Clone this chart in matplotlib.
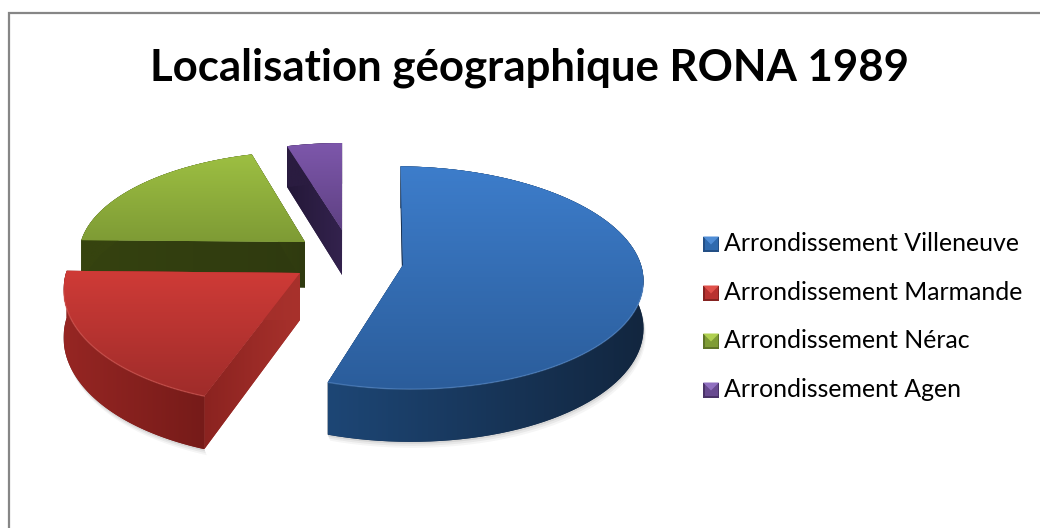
import numpy as np
import matplotlib
matplotlib.use("Agg")
import matplotlib.pyplot as plt
from matplotlib.patches import Polygon, Rectangle
from matplotlib.colors import LinearSegmentedColormap

title = "Localisation géographique RONA 1989"
categories = ["Arrondissement Villeneuve", "Arrondissement Marmande",
              "Arrondissement Nérac", "Arrondissement Agen"]
values = [55.0, 20.3, 20.2, 4.5]

# style: per-slice placement on screen (exploded apex), perspective fit and colours
apex = [(403, 265), (300, 273), (305, 242), (342, 230)]
scale_x = [0.995, 0.97, 0.96, 0.94]
scale_y = [1.0, 1.04, 0.96, 0.94]
start_nudge = [1.0, 2.0, 0.0, 0.0]
top_cols = [("#3d7dcb", "#2b5d9b"), ("#cf3b37", "#9f2c2a"),
            ("#9dbf42", "#7e9b35"), ("#7d57ab", "#5f4183")]
arc_cols = [("#1d4675", "#12263f"), ("#962623", "#761b19"),
            ("#36430f", "#36430f"), ("#2a1c40", "#2a1c40")]
rad_cols = [("#1a3557", "#1a3557"), ("#8b2320", "#a8312c"),
            ("#35420f", "#2f3a10"), ("#241838", "#33224d")]
rims = ["#6fa0dc", "#e8706a", "#c0dc70", "#a080c8"]
draw_order = [3, 2, 0, 1]

CX, CY, RX, RY, K, D = 343.0, 252.0, 236.0, 107.0, 0.113, 46.0
W, H = 1040, 528

plt.rcParams["font.family"] = ["Lato", "DejaVu Sans"]

fig = plt.figure(figsize=(W / 100, H / 100), dpi=100, facecolor="white")
ax = fig.add_axes([0, 0, 1, 1])
ax.set_xlim(0, W)
ax.set_ylim(H, 0)
ax.axis("off")


def project(U, V, down=0.0):
    w = 1 + K * V
    return np.column_stack([CX + RX * U / w, CY - RY * V / w + down / w])


def unproject(px, py):
    a = (px - CX) / RX
    b = (CY - py) / RY
    w = 1 / (1 - K * b)
    return a * w, b * w


def grad_poly(pts, c0, c1, horizontal, z):
    """Polygon filled with a linear gradient, clipped to its outline."""
    poly = Polygon(pts, closed=True, fc=c1, ec="none", zorder=z)
    ax.add_patch(poly)
    x0, x1 = pts[:, 0].min(), pts[:, 0].max()
    y0, y1 = pts[:, 1].min(), pts[:, 1].max()
    cmap = LinearSegmentedColormap.from_list("g", [c0, c1])
    ramp = np.linspace(0, 1, 128)
    data = ramp[None, :] if horizontal else ramp[:, None]
    im = ax.imshow(data, cmap=cmap, extent=(x0, x1, y1, y0), aspect="auto",
                   zorder=z, interpolation="bilinear", vmin=0, vmax=1)
    im.set_clip_path(poly)


angles = np.cumsum([0.0] + list(values)) / sum(values) * 360.0
slices = []
for i, (a0, a1) in enumerate(zip(angles[:-1], angles[1:])):
    U0, V0 = unproject(*apex[i])
    th = np.radians(np.linspace(a0 + start_nudge[i], a1, 90))
    U = U0 + scale_x[i] * np.sin(th)
    V = V0 + scale_y[i] * np.cos(th)
    slices.append((i, U0, V0, U, V))

# soft shadow along the front of the visible walls
for i, U0, V0, U, V in slices:
    if i in (0, 1):
        front = V < V0 + 0.05
        edge = project(U[front], V[front], D)
        for off, al in [(6, .05), (4, .07), (2, .10)]:
            strip = np.vstack([edge, (edge + [off * .4, off])[::-1]])
            ax.add_patch(Polygon(strip, closed=True, fc="#404040", alpha=al,
                                 ec="none", zorder=1))

z = 2
for i in draw_order:
    _, U0, V0, U, V = slices[i]
    top_arc = project(U, V)
    bot_arc = project(U, V, D)
    a_top = project(np.array([U0]), np.array([V0]))
    a_bot = project(np.array([U0]), np.array([V0]), D)
    # radial walls
    for end in (0, -1):
        quad = np.vstack([a_top, top_arc[[end]], bot_arc[[end]], a_bot])
        grad_poly(quad, rad_cols[i][0], rad_cols[i][1], True, z)
        z += 1
    # outer wall
    wall = np.vstack([top_arc, bot_arc[::-1]])
    grad_poly(wall, arc_cols[i][0], arc_cols[i][1], True, z)
    z += 1
    # top surface
    top = np.vstack([a_top, top_arc])
    grad_poly(top, top_cols[i][0], top_cols[i][1], False, z)
    z += 1
    if i in (0, 1):
        front = V < V0 - 0.15
        ax.plot(top_arc[front, 0], top_arc[front, 1], color=rims[i], lw=1.0,
                alpha=.4, zorder=z, solid_capstyle="round")
        z += 1

# chart frame (only left and top are inside the picture)
ax.plot([9, 9, 1040], [528, 13, 13], color="#868686", lw=1.6, zorder=30,
        solid_joinstyle="miter")

ax.text(530, 81, title, ha="center", va="baseline", fontsize=31.5,
        fontweight="bold", color="black", zorder=31)

leg_y = [244, 293, 341, 390]
leg_light = ["#4f8dd6", "#e0504a", "#b0d050", "#9070c0"]
leg_mid = ["#2f6aae", "#b83230", "#7f9c35", "#684a90"]
leg_dark = ["#234f85", "#852321", "#5f7528", "#4a3368"]
for name, y, l, m, d in zip(categories, leg_y, leg_light, leg_mid, leg_dark):
    ax.add_patch(Rectangle((703, y - 7.5), 16, 15, fc=d, ec="none", zorder=31))
    ax.add_patch(Rectangle((704.5, y - 6), 13, 12, fc=m, ec="none", zorder=32))
    ax.add_patch(Polygon([(703, y - 7.5), (719, y - 7.5), (711, y + 0.5)],
                         closed=True, fc=l, ec="none", zorder=33))
    ax.text(724, y + 7, name, ha="left", va="baseline", fontsize=17.9,
            color="black", zorder=31)

fig.savefig("out.png", dpi=100, facecolor="white")
